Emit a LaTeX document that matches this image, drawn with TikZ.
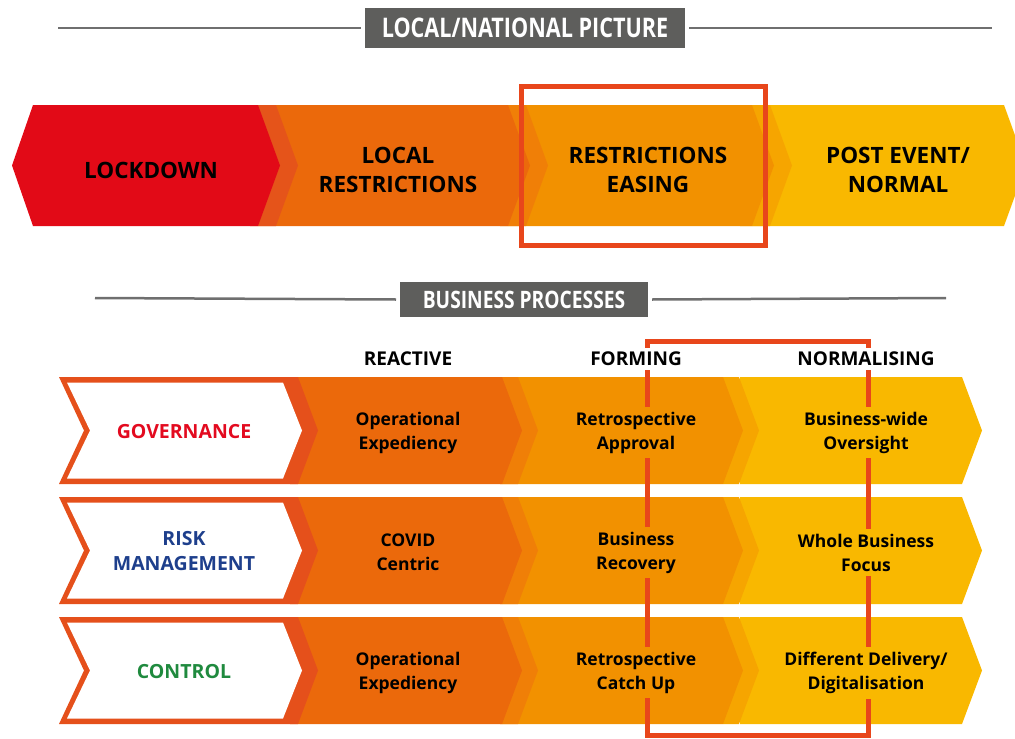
\documentclass[tikz,border=0pt]{standalone}
\usepackage{fontspec}
\setmainfont{Open Sans}
\newfontfamily\headfont[FakeStretch=0.8]{Open Sans}
\usepackage{tikz}
\definecolor{lockred}{HTML}{E20A17}
\definecolor{phaseone}{HTML}{EB690B}
\definecolor{phasetwo}{HTML}{F29100}
\definecolor{phasethree}{HTML}{F9B800}
\definecolor{bandone}{HTML}{E5541A}
\definecolor{bandtwo}{HTML}{F07F07}
\definecolor{bandthree}{HTML}{F6A500}
\definecolor{frameorange}{HTML}{E5501B}
\definecolor{bracketred}{HTML}{E8461B}
\definecolor{headgrey}{HTML}{5E5E5C}
\definecolor{rulegrey}{HTML}{6F6F6F}
\definecolor{govred}{HTML}{E30A1F}
\definecolor{riskblue}{HTML}{1E3F8C}
\definecolor{ctrlgreen}{HTML}{1F8A3E}
\newcommand{\tipdepth}{20}
% #1 colour, #2 left x, #3 corner x, #4 top y, #5 bottom y
\newcommand{\chevronfill}[5]{\fill[#1] (#2,#4) -- (#3,#4) -- ({#3+\tipdepth},{(#4+#5)/2}) -- (#3,#5) -- (#2,#5) -- cycle;}
\tikzset{toptext/.style={font=\bfseries\fontsize{22.5}{29}\selectfont, align=center},
         celltext/.style={font=\bfseries\fontsize{17.5}{24}\selectfont, align=center, inner sep=5pt},
         rowtext/.style={font=\bfseries\fontsize{19.5}{25}\selectfont, align=center},
         coltext/.style={font=\bfseries\fontsize{19}{23}\selectfont, inner sep=4pt},
         headbox/.style={fill=headgrey, text=white, inner sep=0pt, outer sep=4pt},
         rule/.style={rulegrey, line width=2.5pt},
         bracket/.style={bracketred, line width=5pt}}

\begin{document}
\begin{tikzpicture}[x=1pt,y=-1pt]
\clip (0,0) rectangle (1015,739);
% local/national picture
\node[headbox, font=\headfont\bfseries\fontsize{27}{30}\selectfont, minimum width=320, minimum height=40] (natbox) at (525,28) {LOCAL/NATIONAL PICTURE};
\coordinate (natl) at (58,28);
\coordinate (natr) at (992,28);
\draw[rule] (natl) -- (natbox.west);
\draw[rule] (natbox.east) -- (natr);
\renewcommand{\tipdepth}{22}
\chevronfill{phasethree}{740}{1004}{105}{226}
\chevronfill{bandthree}{752}{770}{105}{226}
\chevronfill{phasetwo}{500}{752}{105}{226}
\chevronfill{bandtwo}{508}{526}{105}{226}
\chevronfill{phaseone}{250}{508}{105}{226}
\chevronfill{bandone}{258}{276}{105}{226}
\fill[lockred] (33,105) -- (258,105) -- (280,165.5) -- (258,226) -- (33,226) -- (12,165.5) -- cycle;
\node[toptext] (lockdown) at (151,170) {LOCKDOWN};
\node[toptext] (localres) at (398,170) {LOCAL\\RESTRICTIONS};
\node[toptext] (easing) at (648,170) {RESTRICTIONS\\EASING};
\node[toptext] (postevent) at (898,170) {POST EVENT/\\NORMAL};
\draw[bracket] (521,86.5) rectangle (765,245.5);
% business processes
\node[headbox, font=\headfont\bfseries\fontsize{24}{27}\selectfont, minimum width=248, minimum height=35] (bizbox) at (524,299.5) {BUSINESS PROCESSES};
\coordinate (bizl) at (95,298);
\coordinate (bizr) at (946,298);
\draw[rule] (bizl) -- (bizbox.west);
\draw[rule] (bizbox.east) -- (bizr);
\node[coltext] (reactlbl) at (408,359) {REACTIVE};
\node[coltext] (formlbl) at (636,359) {FORMING};
\node[coltext] (normlbl) at (866,359) {NORMALISING};
\renewcommand{\tipdepth}{20}
\foreach \yt/\r/\rlabel/\rcol/\ra/\rb/\rc in {
  377/1/GOVERNANCE/govred/{Operational\\Expediency}/{Retrospective\\Approval}/{Business-wide\\Oversight},
  497/2/{RISK\\MANAGEMENT}/riskblue/{COVID\\Centric}/{Business\\Recovery}/{Whole Business\\Focus},
  617/3/CONTROL/ctrlgreen/{Operational\\Expediency}/{Retrospective\\Catch Up}/{Different Delivery/\\Digitalisation}}
{
  \pgfmathsetmacro\yb{\yt+107}
  \pgfmathsetmacro\ym{\yt+53.5}
  \pgfmathsetmacro\yti{\yt+5.5}
  \pgfmathsetmacro\ybi{\yb-5.5}
  \chevronfill{phasethree}{740}{962}{\yt}{\yb}
  \chevronfill{bandthree}{723}{739}{\yt}{\yb}
  \chevronfill{phasetwo}{500}{723}{\yt}{\yb}
  \chevronfill{bandtwo}{502}{518}{\yt}{\yb}
  \chevronfill{phaseone}{290}{502}{\yt}{\yb}
  \fill[frameorange] (59,\yt) -- (298,\yt) -- (318,\ym) -- (298,\yb) -- (59,\yb) -- (84,\ym) -- cycle;
  \fill[white] (67,\yti) -- (283,\yti) -- (302,\ym) -- (283,\ybi) -- (67,\ybi) -- (90,\ym) -- cycle;
  \node[rowtext, text=\rcol] (row\r) at (184,\ym+1) {\rlabel};
  \node[celltext] (react\r) at (408,\ym+2) {\ra};
  \node[celltext] (form\r) at (636,\ym+2) {\rb};
  \node[celltext] (norm\r) at (866,\ym+2) {\rc};
}
% bracket round forming/normalising
\coordinate (brTL) at (647,341);
\coordinate (brTR) at (868,341);
\coordinate (brBL) at (647,735);
\coordinate (brBR) at (868,735);
\draw[bracket] (formlbl.north -| brTL) -- (brTL) -- (brTR) -- (normlbl.north -| brTR);
\draw[bracket] (form3.south -| brBL) -- (brBL) -- (brBR) -- (norm3.south -| brBR);
\foreach \c/\col in {L/form, R/norm}
{
  \draw[bracket] (\col lbl.south -| brT\c) -- (\col1.north -| brT\c);
  \draw[bracket] (\col1.south -| brT\c) -- (\col2.north -| brT\c);
  \draw[bracket] (\col2.south -| brT\c) -- (\col3.north -| brT\c);
}
\end{tikzpicture}
\end{document}
